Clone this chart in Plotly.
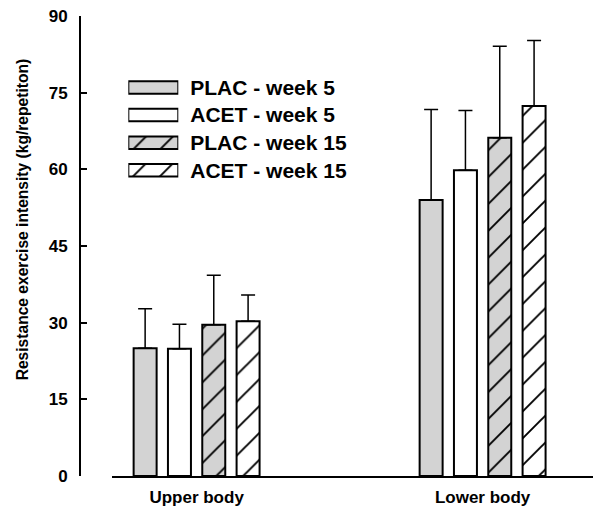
import plotly.graph_objects as go

# ---- data ----
groups = ["Upper body", "Lower body"]
series = ["PLAC - week 5", "ACET - week 5", "PLAC - week 15", "ACET - week 15"]
plac_w5 = [25.0, 54.0]
plac_w5_sd = [7.7, 17.7]
acet_w5 = [24.9, 59.8]
acet_w5_sd = [4.8, 11.7]
plac_w15 = [29.6, 66.2]
plac_w15_sd = [9.7, 17.9]
acet_w15 = [30.3, 72.4]
acet_w15_sd = [5.1, 12.8]
y_ticks = [0, 15, 30, 45, 60, 75, 90]

values = [plac_w5, acet_w5, plac_w15, acet_w15]
errors = [plac_w5_sd, acet_w5_sd, plac_w15_sd, acet_w15_sd]

# ---- styles ----
GRAY = "#d3d3d3"
fills = [GRAY, "white", GRAY, "white"]
shapes = ["", "", "/", "/"]
FONT = "Liberation Sans, Arial, sans-serif"


def marker_for(fc, sh):
    return dict(color=fc, line=dict(color="black", width=2),
                pattern=dict(shape=sh, fgcolor="black", bgcolor=fc,
                             size=19, solidity=0.1, fillmode="replace"))


fig = go.Figure()
for name, v, e, fc, sh in zip(series, values, errors, fills, shapes):
    fig.add_trace(go.Bar(
        x=groups, y=v, name=name, showlegend=False,
        marker=marker_for(fc, sh),
        error_y=dict(type="data", array=e, arrayminus=[0] * len(e), symmetric=False,
                     color="black", thickness=1.5, width=7),
        xaxis="x", yaxis="y",
    ))

# legend drawn as a small horizontal-bar panel (one swatch per series)
for name, fc, sh in zip(series, fills, shapes):
    fig.add_trace(go.Bar(
        y=[name], x=[1], orientation="h", width=0.45, offset=-0.225,
        showlegend=False, marker=marker_for(fc, sh),
        xaxis="x2", yaxis="y2", hoverinfo="skip",
    ))

# the page body adds an 8px offset, so the figure is 8px smaller and shifted
fig.update_layout(
    width=593, height=508,
    margin=dict(l=72, r=8, t=8, b=40, autoexpand=False),
    paper_bgcolor="white", plot_bgcolor="white",
    barmode="group", bargap=0.52, bargroupgap=0.33,
    font=dict(family=FONT, color="black"),
    xaxis=dict(
        domain=[0.0624, 1], type="category", range=[-0.2958, 1.386],
        showline=True, linecolor="black", linewidth=2, ticks="",
        showgrid=False, zeroline=False, anchor="y", automargin=False,
        tickfont=dict(family=FONT, size=17, weight="bold", color="black"),
        ticklabelstandoff=5, ticklabeloverflow="allow",
    ),
    yaxis=dict(
        domain=[0, 1], range=[0, 90], tickvals=y_ticks,
        anchor="free", position=0, automargin=False,
        showline=True, linecolor="black", linewidth=2,
        ticks="inside", ticklen=6, tickwidth=2, tickcolor="black",
        showgrid=False, zeroline=False, ticklabeloverflow="allow",
        tickfont=dict(family=FONT, size=17, weight="bold", color="black"),
        ticklabelstandoff=8,
    ),
    xaxis2=dict(domain=[0.0942, 0.1916], range=[0, 1], visible=False,
                anchor="y2", fixedrange=True, automargin=False),
    yaxis2=dict(domain=[0.6345, 0.8747], anchor="x2", side="right",
                type="category", range=[3.5, -0.5], automargin=False,
                showline=False, showgrid=False, ticklabeloverflow="allow",
                zeroline=False, ticks="", ticklabelstandoff=11,
                tickfont=dict(family=FONT, size=21, weight="bold", color="black")),
    annotations=[dict(
        text="Resistance exercise intensity (kg/repetiton)",
        xref="paper", yref="paper", x=-0.113, y=0.558,
        xanchor="center", yanchor="middle",
        textangle=-90, showarrow=False,
        font=dict(family=FONT, size=15.6, weight="bold", color="black"),
    )],
)

fig.write_html("out.html")
